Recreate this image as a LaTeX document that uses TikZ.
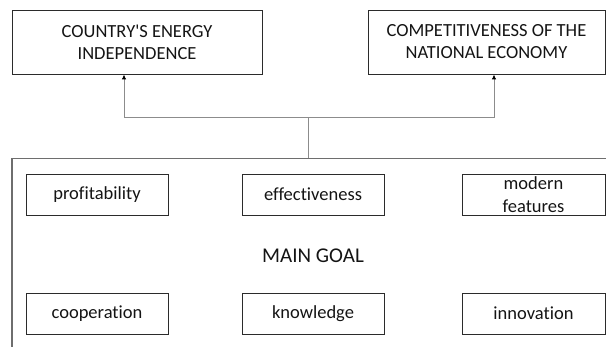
\documentclass[tikz,border=0pt]{standalone}
\usepackage{fontspec}
\setmainfont{Carlito}[Ligatures=NoCommon]
\usepackage{tikz}
\usepackage{xcolor}
\usetikzlibrary{arrows.meta,calc,positioning}
\definecolor{BoxLine}{HTML}{2B2B2B}
\definecolor{LinkGray}{HTML}{8C8C8C}
\definecolor{FrameGray}{HTML}{6E6E6E}
\definecolor{TextDark}{HTML}{141414}

\begin{document}
\begin{tikzpicture}[
      x=1pt,
      y=-1pt,
      font=\fontsize{18.5}{22}\selectfont,
      >={Latex[length=5pt,width=4.5pt,color=black]},
      goalbox/.style={draw=BoxLine,line width=0.9pt,minimum width=250pt,minimum height=64pt,align=center,text=TextDark,inner sep=0pt},
      factor/.style={draw=BoxLine,line width=0.9pt,minimum width=142pt,minimum height=41pt,align=center,text=TextDark,inner sep=0pt},
      link/.style={draw=LinkGray,line width=0.9pt},
      frame/.style={draw=FrameGray,line width=1.4pt}
    ]
      \useasboundingbox (0,0) rectangle (606,347);
      % outcomes
      \node[goalbox] (energy) at (137,42) {COUNTRY\textquotesingle S ENERGY\\INDEPENDENCE};
      \node[goalbox,minimum width=237pt] (economy) at (486.5,42) {COMPETITIVENESS OF THE\\NATIONAL ECONOMY};
      % main goal frame, cut at the right and bottom
      \coordinate (frameTL) at (12,158.5);
      \coordinate (frameTR) at (606,158.5);
      \coordinate (frameBL) at (12,347);
      \coordinate (stem) at (308,158.5);
      \draw[frame] (frameBL) -- (frameTL) -- (frameTR);
      \node[text=TextDark,font=\fontsize{21}{24}\selectfont] (goal) at (313,255.5) {MAIN GOAL};
      % factors
      \node[factor] (profit) at (97,194.5) {profitability};
      \node[factor] (effect) at (313,194.5) {effectiveness};
      \node[factor,minimum width=143pt] (modern) at (533.5,194.5) {modern\\[1pt]features};
      \node[factor] (coop) at (97,313.5) {cooperation};
      \node[factor] (know) at (313,313.5) {knowledge};
      \node[factor,minimum width=143pt] (innov) at (533.5,313.5) {innovation};
      % links up to the outcomes
      \coordinate (split) at (308,117.5);
      \draw[link] (stem) -- (split);
      \draw[link,->] (split) -| ($(energy.south)+(-13,0)$);
      \draw[link,->] (split) -| ($(economy.south)+(7.5,0)$);
    \end{tikzpicture}
\end{document}
